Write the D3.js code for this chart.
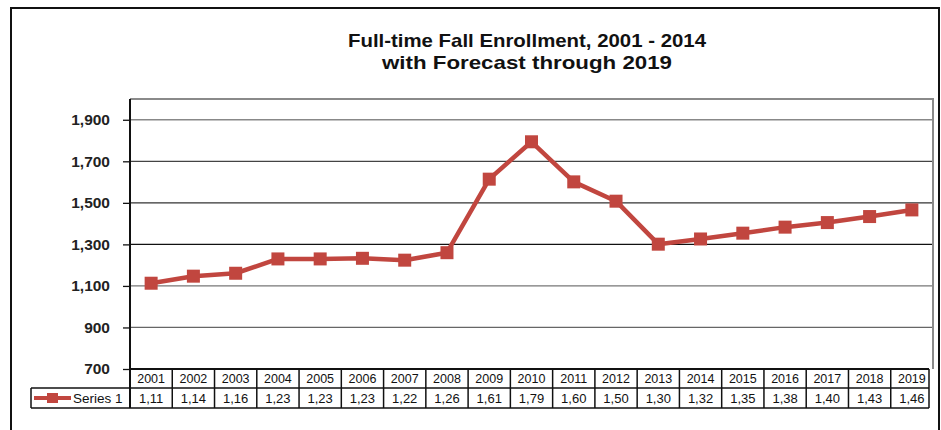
<!DOCTYPE html>
<html>
<head>
<meta charset="utf-8">
<script src="https://cdn.jsdelivr.net/npm/d3@7"></script>
<style>
  html, body { margin: 0; padding: 0; background: #fff; }
  svg { display: block; }
</style>
</head>
<body>
<svg id="chart" width="941" height="430"></svg>
<script>
// ---- data ----
const years = ["2001","2002","2003","2004","2005","2006","2007","2008","2009","2010",
               "2011","2012","2013","2014","2015","2016","2017","2018","2019"];
const enrollment = [1113, 1147, 1161, 1230, 1230, 1233, 1224, 1260, 1614, 1794,
                    1601, 1508, 1301, 1326, 1354, 1383, 1405, 1434, 1466];
const yTicks = [700, 900, 1100, 1300, 1500, 1700, 1900];
const seriesName = "Series 1";
const titleLines = ["Full-time Fall Enrollment, 2001 - 2014", "with Forecast through 2019"];

// ---- layout ----
const svg = d3.select("#chart");
const plot = { left: 130, right: 933, top: 99, bottom: 369 };
const tableRow1 = 388, tableBottom = 408, legendLeft = 31;
const red = "#c1463f";
const font = "Liberation Sans, Arial, Helvetica, sans-serif";

const x = d3.scaleBand().domain(years).range([plot.left, plot.right]);
const y = d3.scaleLinear().domain([700, 2000]).range([plot.bottom, plot.top]);

// outer frame
svg.append("rect").attr("x", 11).attr("y", 8).attr("width", 928).attr("height", 440)
  .attr("fill", "none").attr("stroke", "#111").attr("stroke-width", 2);

// title
const title = svg.append("g");
titleLines.forEach((t, i) => {
  title.append("text")
    .attr("x", 527).attr("y", 47 + i * 22)
    .attr("text-anchor", "middle")
    .attr("font-family", "'Liberation Sans Narrow', 'Arial Narrow', " + font)
    .attr("font-weight", "bold")
    .attr("font-size", 19)
    .attr("fill", "#111")
    .attr("textLength", i === 0 ? 358 : 290)
    .attr("lengthAdjust", "spacingAndGlyphs")
    .text(t);
});

// gridlines
const gridColor = { 700: "#111", 900: "#666", 1100: "#777", 1300: "#111", 1500: "#333", 1700: "#444", 1900: "#888" };
svg.append("g").selectAll("line").data(yTicks.filter(d => d !== 700)).join("line")
  .attr("x1", plot.left).attr("x2", plot.right)
  .attr("y1", d => y(d)).attr("y2", d => y(d))
  .attr("stroke", d => gridColor[d]).attr("stroke-width", 1.3);

// plot area border (top & right)
svg.append("path")
  .attr("d", `M${plot.left},${plot.top}H${plot.right}V${plot.bottom}`)
  .attr("fill", "none").attr("stroke", "#8a8a8a").attr("stroke-width", 2);

// y axis
const yAxis = d3.axisLeft(y).tickValues(yTicks).tickSize(7).tickPadding(13)
  .tickFormat(d3.format(","));
const ya = svg.append("g").attr("transform", `translate(${plot.left},0)`).call(yAxis);
ya.select(".domain").remove();
ya.selectAll(".tick line").attr("stroke", "#111").attr("stroke-width", 1.3);
ya.selectAll(".tick text").attr("font-family", font).attr("font-weight", "bold")
  .attr("font-size", 15.5).attr("fill", "#222");
svg.append("line").attr("x1", plot.left).attr("x2", plot.left)
  .attr("y1", plot.top).attr("y2", tableBottom)
  .attr("stroke", "#111").attr("stroke-width", 2);

// data table
const tbl = svg.append("g");
tbl.append("line").attr("x1", plot.left).attr("x2", plot.right - 4)
  .attr("y1", plot.bottom).attr("y2", plot.bottom).attr("stroke", "#111").attr("stroke-width", 2);
tbl.append("line").attr("x1", legendLeft).attr("x2", plot.right - 4)
  .attr("y1", tableRow1).attr("y2", tableRow1).attr("stroke", "#111").attr("stroke-width", 1.5);
tbl.append("line").attr("x1", legendLeft).attr("x2", plot.right - 4)
  .attr("y1", tableBottom).attr("y2", tableBottom).attr("stroke", "#111").attr("stroke-width", 1.5);
tbl.append("line").attr("x1", legendLeft).attr("x2", legendLeft)
  .attr("y1", tableRow1).attr("y2", tableBottom).attr("stroke", "#111").attr("stroke-width", 1.5);
tbl.selectAll("line.sep").data(years).join("line").attr("class", "sep")
  .attr("x1", d => Math.min(x(d) + x.bandwidth(), plot.right - 4))
  .attr("x2", d => Math.min(x(d) + x.bandwidth(), plot.right - 4))
  .attr("y1", plot.bottom).attr("y2", tableBottom)
  .attr("stroke", "#111").attr("stroke-width", 1.5);
tbl.selectAll("text.yr").data(years).join("text").attr("class", "yr")
  .attr("x", d => x(d) + x.bandwidth() / 2).attr("y", 383)
  .attr("text-anchor", "middle").attr("font-family", font).attr("font-size", 12.5)
  .attr("fill", "#111").text(d => d);
tbl.selectAll("text.val").data(enrollment).join("text").attr("class", "val")
  .attr("x", (d, i) => x(years[i]) + x.bandwidth() / 2).attr("y", 403)
  .attr("text-anchor", "middle").attr("font-family", font).attr("font-size", 13)
  .attr("fill", "#111").text(d => d3.format(",")(d).slice(0, 4));

// legend key
tbl.append("line").attr("x1", 34).attr("x2", 71).attr("y1", 398).attr("y2", 398)
  .attr("stroke", red).attr("stroke-width", 4);
tbl.append("rect").attr("x", 47).attr("y", 393).attr("width", 11).attr("height", 10).attr("fill", red);
tbl.append("text").attr("x", 73).attr("y", 403).attr("font-family", font).attr("font-size", 13.5)
  .attr("fill", "#111").text(seriesName);

// series line
const line = d3.line().x((d, i) => x(years[i]) + x.bandwidth() / 2).y(d => y(d));
svg.append("path").datum(enrollment).attr("d", line)
  .attr("fill", "none").attr("stroke", red).attr("stroke-width", 4.5).attr("stroke-linejoin", "round");
const ms = 13;
svg.append("g").selectAll("rect").data(enrollment).join("rect")
  .attr("x", (d, i) => x(years[i]) + x.bandwidth() / 2 - ms / 2)
  .attr("y", d => y(d) - ms / 2)
  .attr("width", ms).attr("height", ms).attr("fill", red);
</script>
</body>
</html>
